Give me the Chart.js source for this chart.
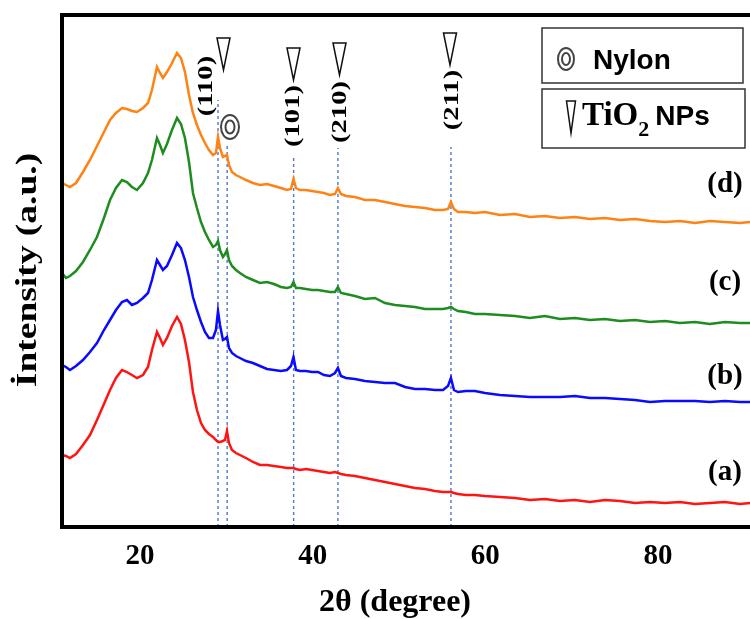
<!DOCTYPE html>
<html>
<head>
<meta charset="utf-8">
<script src="https://cdn.jsdelivr.net/npm/chart.js@4.4.1/dist/chart.umd.min.js"></script>
<style>
  body { margin: 0; background: #fff; }
  #wrap { width: 750px; height: 619px; position: relative; }
</style>
</head>
<body>
<div id="wrap"><canvas id="xrdChart"></canvas></div>
<script>
// 2θ (degree) sampling shared by the four patterns
const twoTheta = [10.97, 11.43, 11.89, 12.59, 13.40, 14.21, 15.02, 15.83, 16.53, 17.22,
  17.92, 18.49, 19.07, 19.65, 20.35, 20.93, 21.39, 21.97, 22.32, 22.66,
  23.13, 23.71, 24.29, 24.75, 25.21, 25.68, 26.14, 26.60, 27.07, 27.53,
  27.99, 28.46, 28.80, 29.04, 29.27, 29.61, 29.85, 30.08, 30.31, 30.66,
  31.12, 31.58, 32.28, 33.09, 33.90, 34.71, 35.52, 36.33, 37.03, 37.49,
  37.78, 38.07, 38.53, 39.23, 39.92, 40.62, 41.31, 42.01, 42.59, 42.93,
  43.28, 43.86, 44.90, 46.06, 47.22, 48.38, 49.54, 50.70, 51.85, 53.01,
  54.17, 55.10, 55.68, 56.02, 56.37, 56.83, 57.76, 58.80, 59.96, 61.70,
  63.44, 65.17, 66.91, 68.65, 70.39, 72.12, 73.86, 75.60, 77.34, 79.07,
  80.81, 82.55, 84.29, 86.02, 87.76, 89.50, 90.66];

// intensities (a.u., stacked as in the figure)
const intensityA = [72, 71, 69, 73, 82, 92, 107, 123, 137, 149,
  157, 155, 152, 149, 152, 160, 177, 195, 189, 182,
  189, 201, 210, 203, 187, 165, 135, 117, 104, 97,
  93, 90, 87, 85, 85, 86, 87, 96, 84, 77,
  74, 72, 69, 65, 62, 62, 61, 60, 59, 59,
  59, 58, 57, 58, 57, 56, 55, 54, 55, 54,
  53, 52, 51, 49, 47, 45, 43, 41, 39, 38,
  36, 35, 35, 35, 34, 33, 32, 32, 31, 30,
  29, 27, 28, 26, 27, 25, 27, 26, 24, 25,
  24, 25, 23, 24, 25, 23, 24];

const intensityB = [162, 160, 157, 161, 167, 175, 184, 197, 207, 217,
  225, 227, 222, 224, 229, 234, 247, 267, 262, 257,
  261, 272, 284, 279, 267, 250, 230, 217, 205, 195,
  189, 189, 197, 216, 202, 187, 188, 190, 179, 174,
  171, 169, 166, 164, 161, 158, 157, 156, 157, 161,
  170, 157, 156, 156, 155, 155, 152, 151, 154, 159,
  151, 149, 148, 146, 145, 144, 144, 140, 138, 138,
  137, 137, 141, 149, 137, 135, 136, 136, 134, 132,
  131, 130, 130, 130, 131, 129, 129, 128, 127, 125,
  126, 126, 126, 125, 126, 125, 125];

const intensityC = [254, 249, 251, 256, 265, 277, 290, 309, 327, 339,
  347, 345, 340, 337, 344, 354, 367, 389, 382, 374,
  383, 397, 409, 403, 389, 365, 334, 319, 305, 295,
  287, 280, 282, 286, 277, 270, 273, 277, 267, 261,
  257, 254, 250, 247, 244, 245, 243, 240, 239, 240,
  245, 239, 239, 238, 237, 237, 236, 235, 235, 240,
  234, 233, 231, 228, 229, 224, 222, 221, 220, 218,
  218, 218, 219, 220, 218, 216, 215, 213, 213, 212,
  211, 209, 211, 208, 209, 207, 208, 206, 207, 205,
  206, 204, 205, 203, 205, 204, 204];

const intensityD = [344, 342, 340, 344, 355, 367, 381, 395, 407, 414,
  419, 418, 416, 415, 419, 424, 437, 460, 454, 449,
  455, 464, 474, 469, 455, 432, 414, 402, 392, 384,
  377, 372, 374, 390, 379, 370, 371, 372, 362, 355,
  352, 350, 347, 344, 342, 343, 341, 339, 337, 338,
  348, 339, 337, 337, 336, 335, 334, 332, 333, 339,
  333, 331, 330, 327, 327, 325, 323, 321, 320, 319,
  317, 317, 318, 325, 318, 315, 315, 314, 315, 312,
  313, 310, 311, 309, 310, 308, 309, 307, 308, 306,
  305, 306, 304, 306, 305, 304, 305];

// marked reflections: (110), nylon, (101), (210), (211)
const peakPositions = [29.04, 30.1, 37.8, 42.93, 56.02];
const peakLineTops = [427, 384, 372, 379, 380];
const millerLabels = ['(110)', '(101)', '(210)', '(211)'];
const sampleLabels = ['(a)', '(b)', '(c)', '(d)'];
const xTicks = [20, 40, 60, 80];

const serif = '"Liberation Serif", "Times New Roman", serif';
const sans = '"Liberation Sans", Arial, sans-serif';

function toPoints(ys) {
  return twoTheta.map((x, i) => ({ x: x, y: ys[i] }));
}

function curve(ys, color) {
  return {
    data: toPoints(ys),
    borderColor: color,
    borderWidth: 2.5,
    pointRadius: 0,
    tension: 0
  };
}

const peakLines = peakPositions.map((p, i) => ({
  data: [{ x: p, y: 0 }, { x: p, y: peakLineTops[i] }],
  borderColor: '#4a78cc',
  borderWidth: 1.4,
  borderDash: [3, 3],
  pointRadius: 0
}));

// rotated text, stretched along its length like in the figure
function sideText(ctx, text, x, y, sx) {
  ctx.save();
  ctx.translate(x, y);
  ctx.rotate(-Math.PI / 2);
  ctx.scale(sx, 1);
  ctx.fillText(text, 0, 0);
  ctx.restore();
}

function triangle(ctx, cx, top, w, h) {
  ctx.beginPath();
  ctx.moveTo(cx - w / 2, top);
  ctx.lineTo(cx + w / 2, top);
  ctx.lineTo(cx, top + h);
  ctx.closePath();
  ctx.stroke();
}

function ring(ctx, cx, cy, rx, ry) {
  ctx.beginPath();
  ctx.ellipse(cx, cy, rx, ry, 0, 0, Math.PI * 2);
  ctx.stroke();
  ctx.beginPath();
  ctx.ellipse(cx, cy, rx * 0.5, ry * 0.55, 0, 0, Math.PI * 2);
  ctx.stroke();
}

const decorPlugin = {
  id: 'decor',
  afterDraw(chart) {
    const { ctx, chartArea: a } = chart;
    ctx.save();

    // frame: left, top and bottom only (right side is cut off)
    ctx.strokeStyle = '#000';
    ctx.lineWidth = 4;
    ctx.beginPath();
    ctx.moveTo(a.right + 4, a.top);
    ctx.lineTo(a.left, a.top);
    ctx.lineTo(a.left, a.bottom);
    ctx.lineTo(a.right + 4, a.bottom);
    ctx.stroke();

    ctx.fillStyle = '#000';
    ctx.textAlign = 'center';
    ctx.textBaseline = 'middle';

    // axis titles
    ctx.font = 'bold 32px ' + serif;
    ctx.fillText('2θ (degree)', 395, 603);
    ctx.font = 'bold 30px ' + serif;
    sideText(ctx, 'İntensity (a.u.)', 28, 270, 1.25);

    // sample labels
    ctx.font = 'bold 29px ' + serif;
    const labelY = [473, 377, 283, 185];
    sampleLabels.forEach((t, i) => ctx.fillText(t, 725, labelY[i]));

    // miller indices + triangles
    ctx.font = 'bold 22px ' + serif;
    const lx = [206, 293, 340, 452];
    const ly = [86, 116, 112, 100];
    millerLabels.forEach((t, i) => sideText(ctx, t, lx[i], ly[i], 1.3));
    ctx.lineWidth = 1.5;
    ctx.strokeStyle = '#111';
    const tx = [223.5, 293.5, 339.5, 450];
    const ty = [38, 48, 43, 33];
    tx.forEach((x, i) => triangle(ctx, x, ty[i], 13, 32));

    // nylon marker
    ctx.strokeStyle = '#444';
    ctx.lineWidth = 2;
    ring(ctx, 230, 127, 9, 12);

    // legend boxes
    ctx.strokeStyle = '#333';
    ctx.lineWidth = 1.5;
    ctx.strokeRect(542, 28, 201, 55);
    ctx.strokeRect(542, 89, 203, 59);

    ctx.strokeStyle = '#444';
    ctx.lineWidth = 2;
    ring(ctx, 566, 59, 8, 11);
    ctx.textAlign = 'left';
    ctx.textBaseline = 'alphabetic';
    ctx.font = 'bold 28px ' + sans;
    ctx.fillText('Nylon', 593, 69);

    ctx.strokeStyle = '#111';
    ctx.lineWidth = 1.5;
    triangle(ctx, 571, 101, 9, 32);
    ctx.font = 'bold 33px ' + serif;
    ctx.fillText('TiO', 582, 125);
    let w = ctx.measureText('TiO').width;
    ctx.font = 'bold 22px ' + serif;
    ctx.fillText('2', 582 + w, 136);
    w += ctx.measureText('2').width;
    ctx.font = 'bold 28px ' + sans;
    ctx.fillText('NPs', 588 + w, 125);

    ctx.restore();
  }
};

const ctx = document.getElementById('xrdChart').getContext('2d');
const xrdChart = new Chart(ctx, {
  type: 'line',
  data: {
    datasets: [
      curve(intensityD, '#ff8214'),
      curve(intensityC, '#1e8c1e'),
      curve(intensityB, '#0a0aff'),
      curve(intensityA, '#ff1414')
    ].concat(peakLines)
  },
  options: {
    responsive: true,
    maintainAspectRatio: false,
    animation: false,
    layout: { padding: { top: 15, left: 0, right: 0, bottom: 0 } },
    plugins: { legend: { display: false }, tooltip: { enabled: false } },
    scales: {
      x: {
        type: 'linear',
        min: 10.97,
        max: 90.66,
        grid: { display: false, drawTicks: false },
        border: { display: false },
        afterBuildTicks: (s) => { s.ticks = xTicks.map(v => ({ value: v })); },
        afterFit: (s) => { s.height = 92; },
        ticks: {
          color: '#000',
          padding: 12,
          maxRotation: 0,
          font: { family: serif, size: 29, weight: 'bold' }
        }
      },
      y: {
        min: 0,
        max: 512,
        grid: { display: false },
        border: { display: false },
        ticks: { display: false },
        afterFit: (s) => { s.width = 62; }
      }
    }
  },
  plugins: [decorPlugin]
});
</script>
</body>
</html>
